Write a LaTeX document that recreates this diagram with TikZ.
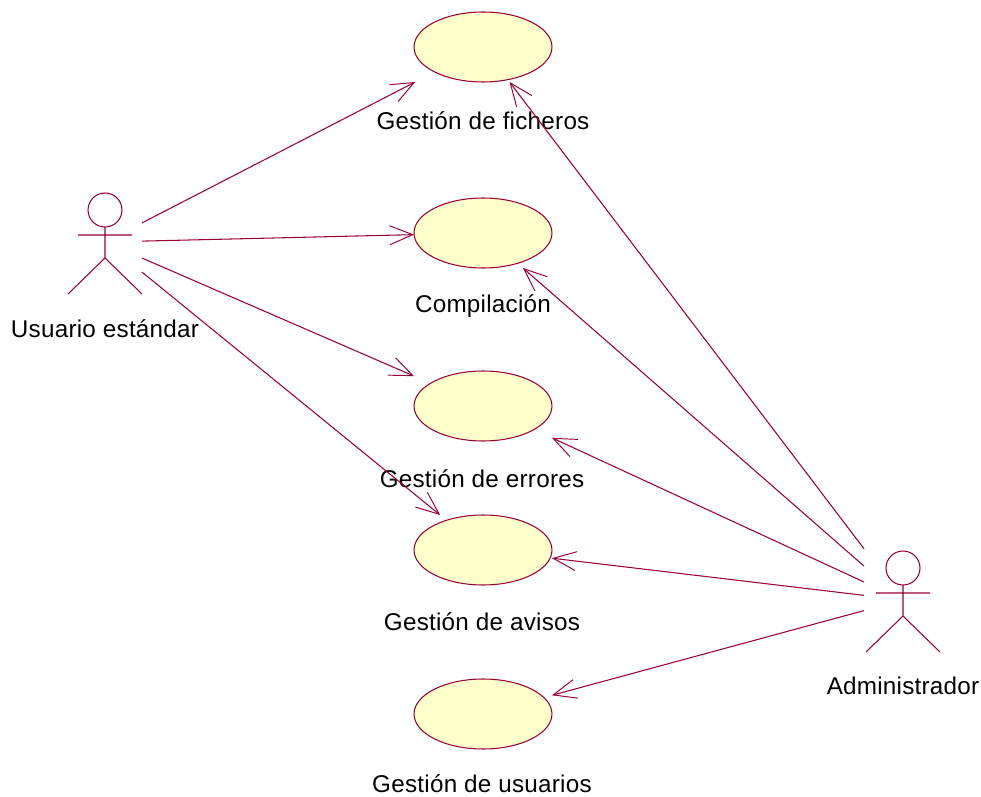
\documentclass[tikz,border=0pt]{standalone}
\usepackage{fontspec}
\setmainfont[LetterSpace=1]{Liberation Sans}
\usepackage{xcolor}
\usetikzlibrary{arrows.meta,shapes.geometric,calc}
\definecolor{rosered}{HTML}{990033}
\definecolor{roseyellow}{HTML}{FFFFCC}
% stick figure drawn around an (invisible) actor node
\newcommand{\stickman}[1]{
    \draw[umlline] ($(#1)+(0,-32)$) circle (0.34cm)
        ($(#1)+(0,-15)$)--($(#1)+(0,16)$)
        ($(#1)+(-27,-7)$)--($(#1)+(27,-7)$)
        ($(#1)+(-37,52)$)--($(#1)+(0,16)$)--($(#1)+(37,52)$);
}
\tikzset{
    umlline/.style={draw=rosered,line width=0.6pt},
    assoc/.style={umlline,-{Straight Barb[length=0.46cm,width=0.38cm,line width=0.55pt]}},
    actorbox/.style={rectangle,inner sep=0,outer sep=0,minimum width=1.48cm,minimum height=2.2cm},
    usecase/.style={rectangle,inner sep=0,outer sep=0,minimum width=2.76cm,minimum height=1.4cm,
        append after command={node[ellipse,umlline,fill=roseyellow,inner sep=0,outer sep=0,
        minimum width=2.76cm,minimum height=1.4cm] (\tikzlastnode-oval) at (\tikzlastnode.center) {}}},
    caption/.style={font=\fontsize{13.8pt}{16pt}\selectfont,text=black,inner sep=0}
}
\begin{document}
\begin{tikzpicture}[x=0.02cm,y=-0.02cm]
    \useasboundingbox (0,0) rectangle (981,797);

    % Actors
    \node[actorbox] (usuario) at (105,242) {};
    \node[actorbox,minimum width=1.56cm] (admin) at (903,600) {};
    \stickman{usuario}
    \stickman{admin}

    % Use cases
    \node[usecase] (ficheros) at (483,47) {};
    \node[usecase] (compilacion) at (483,233) {};
    \node[usecase] (errores) at (483,406) {};
    \node[usecase] (avisos) at (483,550) {};
    \node[usecase] (usuarios) at (483,714) {};

    % Captions
    \node[caption] (lusuario) at (105,329) {Usuario estándar};
    \node[caption] (ladmin) at (903,686) {Administrador};
    \node[caption] (lficheros) at (483,121) {Gestión de ficheros};
    \node[caption] (lcompilacion) at (483,306) {Compilación};
    \node[caption] (lerrores) at (482,479) {Gestión de errores};
    \node[caption] (lavisos) at (482,622) {Gestión de avisos};
    \node[caption] (lusuarios) at (482,784) {Gestión de usuarios};

    % Associations
    \draw[assoc] (usuario)--(ficheros);
    \draw[assoc] (usuario)--(compilacion);
    \draw[assoc] (usuario)--(errores);
    \draw[assoc] (usuario)--(avisos);
    \draw[assoc] (admin)--(ficheros);
    \draw[assoc] (admin)--(compilacion);
    \draw[assoc] (admin)--(errores);
    \draw[assoc] (admin)--(avisos);
    \draw[assoc] (admin)--(usuarios);
\end{tikzpicture}
\end{document}
